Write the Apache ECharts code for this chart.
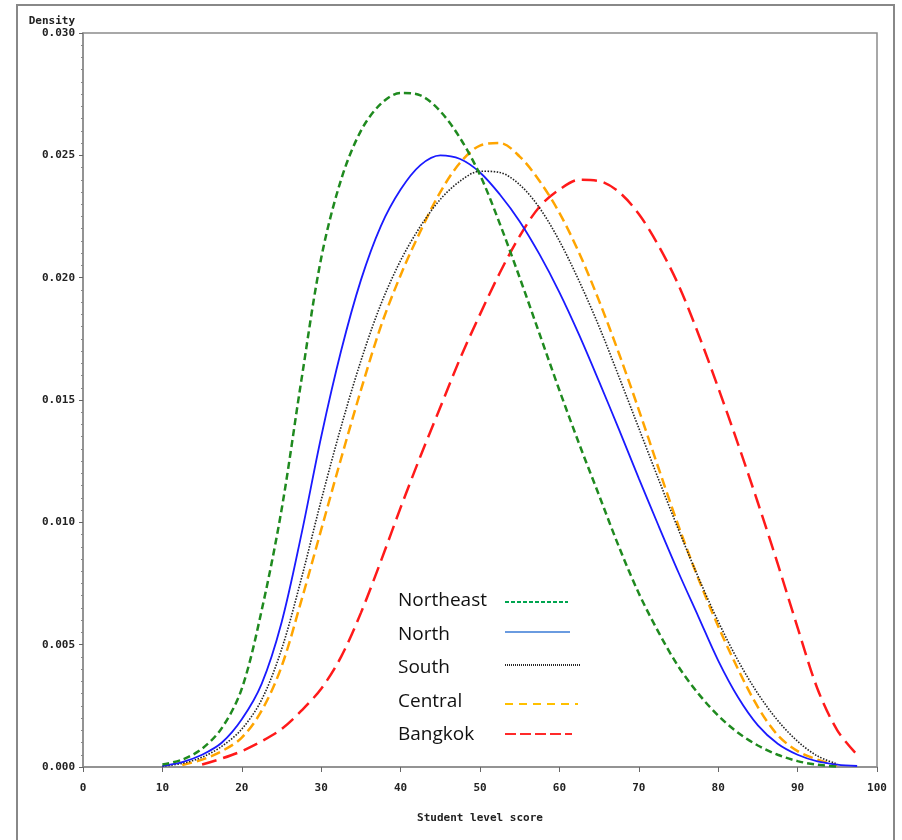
<!DOCTYPE html>
<html lang="en">
  <head>
    <meta charset="UTF-8" />
    <title>Student level score density</title>
    <script src="https://cdn.jsdelivr.net/npm/echarts@6/dist/echarts.min.js"></script>
    <style>
      html, body { margin: 0; padding: 0; background: #fff; }
      #main { width: 902px; height: 840px; }
    </style>
  </head>
  <body>
    <div id="main"></div>
    <script>
      // score grid shared by all curves
      var scores = [10, 12.5, 15, 17.5, 20, 22.5, 25, 27.5, 30, 32.5, 35, 37.5, 40, 42.5, 45, 47.5,
        50, 52.5, 55, 57.5, 60, 62.5, 65, 67.5, 70, 72.5, 75, 77.5, 80, 82.5, 85, 87.5, 90, 92.5, 95, 97.5];

      var northeast = [0.0001, 0.0003, 0.00075, 0.0016, 0.0032, 0.0064, 0.0105, 0.0158, 0.0208, 0.0240,
        0.0260, 0.0271, 0.02755, 0.02745, 0.0268, 0.0257, 0.0242, 0.0222, 0.0200, 0.0177, 0.0154, 0.0132,
        0.0111, 0.0090, 0.0071, 0.0055, 0.0041, 0.0030, 0.0021, 0.0014, 0.00088, 0.0005, 0.00024,
        0.00009, 0.00002, null];
      var north = [0.00005, 0.0002, 0.0005, 0.001, 0.00195, 0.0034, 0.0059, 0.0095, 0.0135, 0.0170,
        0.0199, 0.0221, 0.0236, 0.0246, 0.0250, 0.02485, 0.0243, 0.0234, 0.0223, 0.02095, 0.0194, 0.01765,
        0.01575, 0.0138, 0.0118, 0.00985, 0.00795, 0.00615, 0.00435, 0.00285, 0.0017, 0.00095, 0.0005,
        0.00023, 0.0001, 0.00004];
      var south = [0.00003, 0.00015, 0.0004, 0.00085, 0.00155, 0.00275, 0.0048, 0.0077, 0.0109, 0.0139,
        0.0166, 0.0189, 0.0207, 0.0221, 0.0232, 0.02395, 0.02435, 0.0243, 0.0238, 0.02285, 0.0215, 0.01985,
        0.0180, 0.01595, 0.01385, 0.01175, 0.0097, 0.00775, 0.00595, 0.00435, 0.0030, 0.0019, 0.00105,
        0.00045, 0.00012, null];
      var central = [null, 0.00008, 0.0003, 0.00065, 0.0012, 0.0023, 0.0041, 0.0068, 0.0097, 0.0126,
        0.0154, 0.0180, 0.0201, 0.0219, 0.0235, 0.0247, 0.0254, 0.0255, 0.02495, 0.02395, 0.02265, 0.0210,
        0.01905, 0.0169, 0.0146, 0.0122, 0.00985, 0.0077, 0.00575, 0.0040, 0.00245, 0.0013, 0.00065,
        0.0003, 0.00006, null];
      var bangkok = [null, null, 0.0001, 0.00035, 0.00065, 0.00105, 0.00155, 0.0023, 0.0032, 0.0045,
        0.0063, 0.0084, 0.0106, 0.0127, 0.0147, 0.0167, 0.0185, 0.0202, 0.0217, 0.0229, 0.0236, 0.0240,
        0.02395, 0.0235, 0.0226, 0.0213, 0.0197, 0.0177, 0.0155, 0.0132, 0.0108, 0.0083, 0.0057,
        0.0032, 0.0015, 0.0005];

      var xTicks = [0, 10, 20, 30, 40, 50, 60, 70, 80, 90, 100];
      var regions = ['Northeast', 'North', 'South', 'Central', 'Bangkok'];

      function pairs(values) {
        var out = [];
        for (var i = 0; i < scores.length; i++) {
          if (values[i] !== null) out.push([scores[i], values[i]]);
        }
        return out;
      }

      var labelFont = {
        fontFamily: 'DejaVu Sans Mono',
        fontWeight: 'bold',
        fontSize: 11,
        color: '#222'
      };

      var styles = [
        { color: '#1f8a1f', type: [7, 4], width: 2.5 },
        { color: '#1a1aff', type: 'solid', width: 1.8 },
        { color: '#222222', type: [1.5, 1.5], width: 1.6 },
        { color: '#ffa500', type: [10, 5], width: 2.5 },
        { color: '#ff1a1a', type: [15, 7], width: 2.5 }
      ];
      var seriesData = [northeast, north, south, central, bangkok];

      // hand-drawn style legend inside the plot
      var legendLines = [
        { y: 602, x2: 568, color: '#00a550', type: [4, 2] },
        { y: 632, x2: 570, color: '#6a9be0', type: 'solid' },
        { y: 665, x2: 580, color: '#111111', type: [1, 1] },
        { y: 704, x2: 578, color: '#ffc000', type: [8, 6] },
        { y: 734, x2: 572, color: '#ff2a2a', type: [11, 4] }
      ];
      var legendTextY = [601, 635, 668, 702, 735];

      var graphics = [
        {
          type: 'rect',
          shape: { x: 17, y: 5, width: 877, height: 845 },
          style: { fill: 'none', stroke: '#888', lineWidth: 2 },
          silent: true
        },
        {
          type: 'text',
          x: 75,
          y: 21,
          style: {
            text: 'Density',
            align: 'right',
            verticalAlign: 'middle',
            font: 'bold 11px "DejaVu Sans Mono"',
            fill: '#222'
          }
        }
      ];
      regions.forEach(function (name, i) {
        graphics.push({
          type: 'text',
          x: 398,
          y: legendTextY[i],
          style: {
            text: name,
            verticalAlign: 'middle',
            font: '19px "Open Sans"',
            fill: '#111'
          }
        });
        graphics.push({
          type: 'line',
          shape: { x1: 505, y1: legendLines[i].y, x2: legendLines[i].x2, y2: legendLines[i].y },
          style: {
            stroke: legendLines[i].color,
            lineWidth: 1.8,
            lineDash: legendLines[i].type === 'solid' ? null : legendLines[i].type
          }
        });
      });

      var options = {
        backgroundColor: '#fff',
        animation: false,
        grid: {
          left: 83,
          right: 25,
          top: 33,
          bottom: 73,
          show: true,
          borderColor: '#8c8c8c',
          borderWidth: 1.5,
          containLabel: false
        },
        xAxis: {
          type: 'value',
          min: 0,
          max: 100,
          interval: 10,
          name: 'Student level score',
          nameLocation: 'middle',
          nameGap: 46,
          nameTextStyle: labelFont,
          axisLine: { lineStyle: { color: '#8c8c8c', width: 1.5 } },
          axisTick: { length: 5, lineStyle: { color: '#666' } },
          axisLabel: Object.assign({ margin: 16, formatter: function (v) {
            return xTicks.indexOf(v) >= 0 ? String(v) : '';
          } }, labelFont),
          splitLine: { show: false }
        },
        yAxis: {
          type: 'value',
          min: 0,
          max: 0.03,
          interval: 0.005,
          axisLine: { show: true, lineStyle: { color: '#8c8c8c', width: 1.5 } },
          axisTick: { show: true, length: 4, lineStyle: { color: '#666' } },
          minorTick: { show: true, splitNumber: 10, length: 2, lineStyle: { color: '#888' } },
          axisLabel: Object.assign({ margin: 8, formatter: function (v) {
            return v.toFixed(3);
          } }, labelFont),
          splitLine: { show: false }
        },
        series: regions.map(function (name, i) {
          return {
            name: name,
            type: 'line',
            data: pairs(seriesData[i]),
            showSymbol: false,
            smooth: 0.33,
            lineStyle: styles[i],
            z: 5 - i
          };
        }),
        graphic: graphics
      };

      var myChart = echarts.init(document.getElementById('main'));
      myChart.setOption(options);
    </script>
  </body>
</html>
